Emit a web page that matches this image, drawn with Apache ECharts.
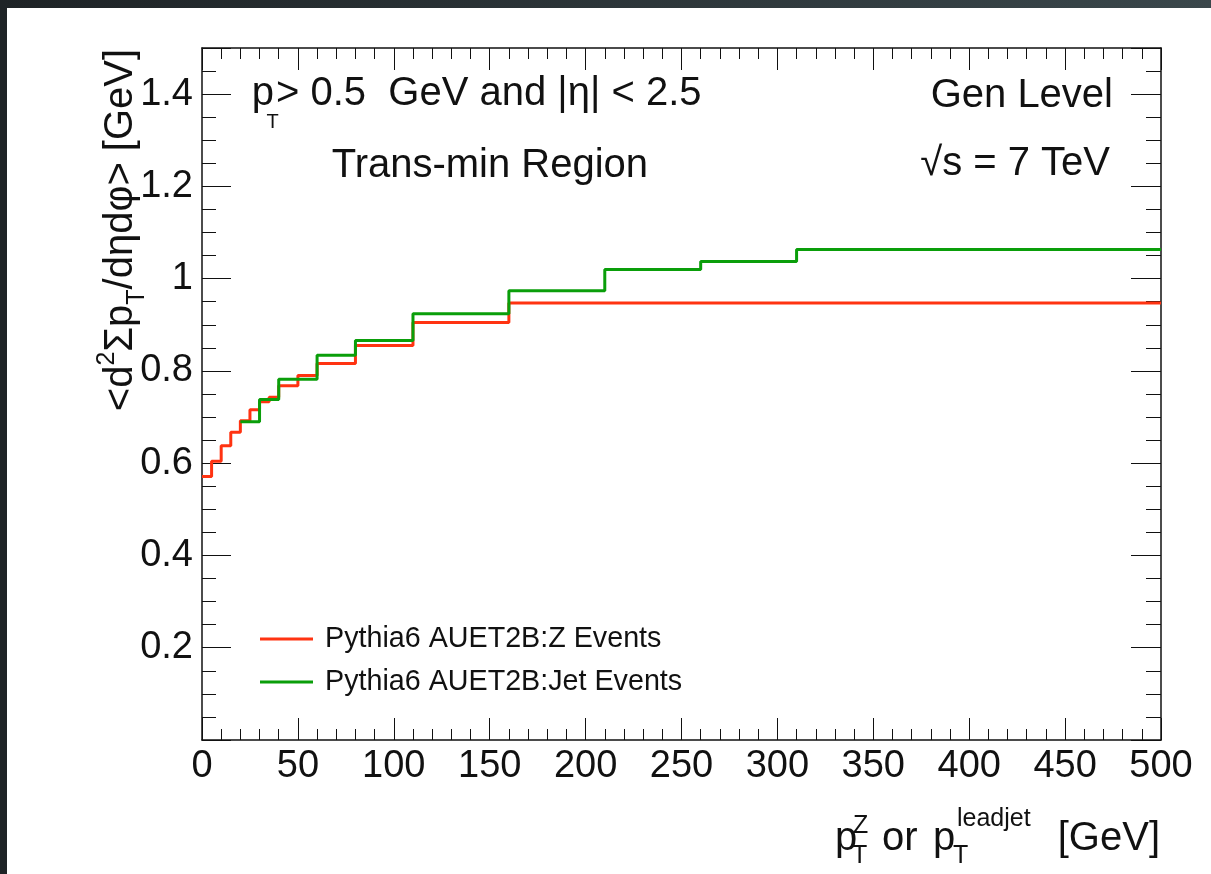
<!DOCTYPE html>
<html><head><meta charset="utf-8">
<script src="https://cdn.jsdelivr.net/npm/echarts@6/dist/echarts.min.js"></script>
<style>
html,body{margin:0;padding:0;background:#fff;}
#c{position:absolute;left:0;top:0;width:1211px;height:874px;background:#fff;}
#bl{position:absolute;left:0;top:0;width:7px;height:874px;background:#1e2326;}
#bt{position:absolute;left:0;top:0;width:1211px;height:8px;background:linear-gradient(to right,#1e2326,#3a474b);}
</style></head><body>
<div id="c"></div><div id="bl"></div><div id="bt"></div>
<script>
// ---- data ----
const zEdges   = [0,5,10,15,20,25,30,35,40,50,60,80,110,160,500];
const zValues  = [0.571,0.604,0.638,0.667,0.692,0.716,0.733,0.743,0.768,0.790,0.816,0.855,0.905,0.947];
const jetEdges = [20,30,40,60,80,110,160,210,260,310,500];
const jetValues= [0.690,0.738,0.782,0.834,0.866,0.924,0.974,1.020,1.037,1.063];
const seriesNames = ['Pythia6 AUET2B:Z Events','Pythia6 AUET2B:Jet Events'];
const xTickLabels = ['0','50','100','150','200','250','300','350','400','450','500'];
const yTickLabels = ['0.2','0.4','0.6','0.8','1','1.2','1.4'];

const FONT = '"Liberation Sans", Arial, sans-serif';
const RED = '#ff3311', GREEN = '#0a9e0a', INK = '#111';

function histPoints(edges, vals){
  const p = vals.map((v,i)=>[edges[i], v]);
  p.push([edges[edges.length-1], vals[vals.length-1]]);
  return p;
}
function txt(x, base, s, size, align, extra){
  return Object.assign({type:'text', x:x, y: base - 0.3465*size, silent:true,
    style:{text:s, font: size+'px '+FONT, fill:INK, textAlign: align||'left', textVerticalAlign:'middle'}}, extra||{});
}
const chart = echarts.init(document.getElementById('c'), null, {renderer:'canvas'});

const frameLine = {show:true, onZero:false, lineStyle:{color:INK, width:1.5}};
const tickStyle = {color:INK, width:1};
function xAx(pos, labels){
  return {type:'value', min:0, max:500, interval:50, position:pos,
    axisLine:frameLine,
    axisTick:{show:true, inside:true, length:22, lineStyle:tickStyle},
    minorTick:{show:true, splitNumber:5, length:11, lineStyle:tickStyle},
    splitLine:{show:false}, minorSplitLine:{show:false},
    axisLabel: labels ? {show:true, fontSize:38, color:INK, fontFamily:FONT, margin:8,
      formatter:(v)=>{const i=Math.round(v/50); return xTickLabels[i]!==undefined && Math.abs(v-i*50)<1e-6 ? xTickLabels[i] : '';}} : {show:false}};
}
function yMajor(pos, labels, len){
  return {type:'value', min:0, max:1.5, interval:0.2, position:pos,
    axisLine:frameLine,
    axisTick:{show:true, inside:true, length:len, lineStyle:tickStyle},
    splitLine:{show:false},
    axisLabel: labels ? {show:true, fontSize:38, color:INK, fontFamily:FONT, margin:9,
      formatter:(v)=>{const i=Math.round(v/0.2)-1; return (i>=0 && i<yTickLabels.length && Math.abs(v-(i+1)*0.2)<1e-6) ? yTickLabels[i] : '';}} : {show:false}};
}
function yMinor(pos, len){
  return {type:'value', min:0, max:1.5, interval:0.05, position:pos,
    axisLine:{show:false, onZero:false},
    axisTick:{show:true, inside:true, length:len, lineStyle:tickStyle},
    splitLine:{show:false}, axisLabel:{show:false}};
}

const graphics = [
  // top-left annotations
  txt(251.7, 108, 'p', 40),
  txt(266.5, 129, 'T', 20),
  txt(276, 108, '> 0.5  GeV and |η| < 2.5', 40),
  txt(331.7, 180, 'Trans-min Region', 40),
  // top-right
  txt(1113, 110, 'Gen Level', 40, 'right'),
  txt(1110, 178, '√s = 7 TeV', 40, 'right'),
  // x axis title
  txt(835, 853, 'p', 40),
  txt(853, 835, 'Z', 25),
  txt(852, 865, 'T', 25),
  txt(882, 853, 'or', 40),
  txt(933, 853, 'p', 40),
  txt(957, 828, 'leadjet', 25),
  txt(953, 865, 'T', 25),
  txt(1160, 853, '[GeV]', 40, 'right')
];
// y axis title (rotated), built from measured segments
(function(){
  const ctx = document.createElement('canvas').getContext('2d');
  const parts = [
    {t:'<d', s:40, dy:0}, {t:'2', s:25, dy:-19}, {t:'Σp', s:40, dy:0},
    {t:'T', s:25, dy:11}, {t:'/dηdφ> [GeV]', s:40, dy:0}
  ];
  let w = 0; parts.forEach(p=>{ctx.font = p.s+'px '+FONT; p.x = w; p.w = ctx.measureText(p.t).width; w += p.w;});
  const children = parts.map(p=>({type:'text', x:p.x, y:p.dy - 0.3465*p.s, silent:true,
    style:{text:p.t, font:p.s+'px '+FONT, fill:INK, textAlign:'left', textVerticalAlign:'middle'}}));
  graphics.push({type:'group', x:135, y:230 + w/2, rotation:Math.PI/2, children:children, silent:true});
})();

chart.setOption({
  animation:false,
  backgroundColor:'#fff',
  grid:{left:202, right:50, top:48, bottom:134, containLabel:false, outerBoundsMode:'none'},
  xAxis:[xAx('bottom', true), xAx('top', false)],
  yAxis:[yMajor('left', true, 29), yMinor('left', 14), yMajor('right', false, 30), yMinor('right', 15)],
  legend:{orient:'vertical', left:255, top:619, itemWidth:53, itemHeight:3, itemGap:13, icon:'rect',
    data:seriesNames,
    textStyle:{fontSize:28.7, fontFamily:FONT, color:INK, lineHeight:30, padding:[0,0,0,7]}},
  series:[
    {name:seriesNames[0], type:'line', step:'end', data:histPoints(zEdges, zValues), xAxisIndex:0, yAxisIndex:0,
      symbol:'none', lineStyle:{color:RED, width:3}, itemStyle:{color:RED}, z:3},
    {name:seriesNames[1], type:'line', step:'end', data:histPoints(jetEdges, jetValues), xAxisIndex:0, yAxisIndex:0,
      symbol:'none', lineStyle:{color:GREEN, width:3}, itemStyle:{color:GREEN}, z:4}
  ],
  graphic:graphics
});
</script>
</body></html>
